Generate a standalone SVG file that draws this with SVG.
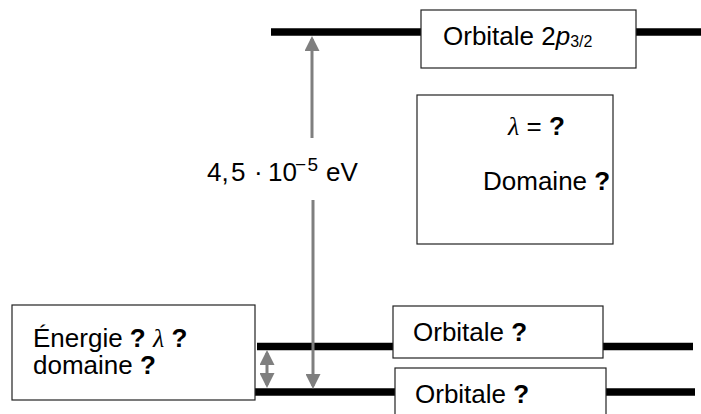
<svg xmlns="http://www.w3.org/2000/svg" width="701" height="414" viewBox="0 0 701 414">
<style>
.lvl{stroke:#000;stroke-width:7.5;fill:none}
.box{fill:#fff;stroke:#222;stroke-width:1.2}
.t{font-family:"Liberation Sans",Arial,sans-serif;font-size:26px;fill:#000}
.b{font-weight:bold}
.lam{font-family:"Liberation Serif","Times New Roman",serif;font-style:italic}
.arr{stroke:#7f7f7f;stroke-width:3;fill:none}
</style>
<defs>
<marker id="ah" markerUnits="userSpaceOnUse" markerWidth="15" markerHeight="15" refX="12" refY="7.5" orient="auto-start-reverse" viewBox="0 0 15 15">
<path d="M0,0 L15,7.5 L0,15 Z" fill="#7f7f7f"/>
</marker>
</defs>
<g id="level-2p32">
<line class="lvl" x1="271" y1="32" x2="701" y2="32"/>
<rect class="box" x="421" y="10" width="215" height="58"/>
<text class="t" x="443" y="44.5">Orbitale 2<tspan font-style="italic">p</tspan><tspan font-size="16" dy="2.5">3/2</tspan></text>
</g>
<g id="level-mid">
<line class="lvl" x1="257" y1="346.5" x2="693" y2="346.5"/>
<rect class="box" x="393" y="306" width="210" height="52"/>
<text class="t" x="413" y="340.5">Orbitale <tspan class="b">?</tspan></text>
</g>
<g id="level-low">
<line class="lvl" x1="254" y1="392" x2="695" y2="392"/>
<rect class="box" x="395" y="368" width="211" height="60"/>
<text class="t" x="415" y="402.5">Orbitale <tspan class="b">?</tspan></text>
</g>
<g id="box-lambda">
<rect class="box" x="417" y="95" width="196" height="149"/>
<text class="t" x="508" y="135"><tspan class="lam">λ</tspan> = <tspan class="b">?</tspan></text>
<text class="t" x="483" y="190">Domaine <tspan class="b">?</tspan></text>
</g>
<g id="box-energie">
<rect class="box" x="12" y="305" width="243" height="95"/>
<text class="t" x="33" y="346.5">Énergie <tspan class="b">?</tspan> <tspan class="lam">λ</tspan> <tspan class="b">?</tspan></text>
<text class="t" x="33" y="374">domaine <tspan class="b">?</tspan></text>
</g>
<g id="label-energy">
<text class="t" y="181"><tspan x="207">4,</tspan><tspan x="231">5</tspan><tspan x="254">·</tspan><tspan x="268">10</tspan><tspan x="295" font-size="19" letter-spacing="1.5" dy="-10.5">−5</tspan><tspan x="326" dy="10.5">eV</tspan></text>
</g>
<g id="connectors">
<line class="arr" x1="312" y1="39" x2="312" y2="138" marker-start="url(#ah)"/>
<line class="arr" x1="313" y1="200" x2="313" y2="386" marker-end="url(#ah)"/>
<line class="arr" x1="267" y1="353" x2="267" y2="385" marker-start="url(#ah)" marker-end="url(#ah)"/>
</g>
</svg>
